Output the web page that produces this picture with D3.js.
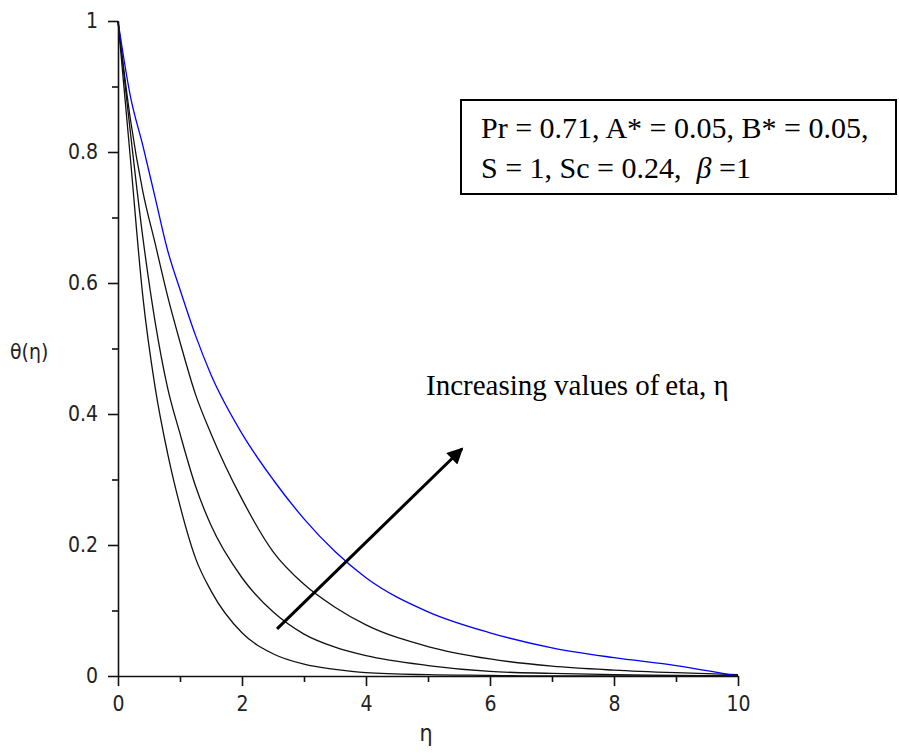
<!DOCTYPE html>
<html>
<head>
<meta charset="utf-8">
<script src="https://cdn.jsdelivr.net/npm/d3@7"></script>
<style>
  body { margin: 0; background: #fff; }
  .tick text { font-family: "Liberation Sans Narrow", "DejaVu Sans Condensed", "DejaVu Sans", sans-serif; font-stretch: condensed; font-size: 21px; fill: #222; }
</style>
</head>
<body>
<svg id="chart" width="899" height="753"></svg>
<script>
// eta grid shared by all four profiles
const ETA = [0, 0.2, 0.4, 0.6, 0.8, 1.0, 1.25, 1.5, 2, 2.5, 3, 3.5, 4, 5, 6, 7, 8, 9, 10];
// theta(eta), innermost curve first
const THETA_1 = [1, 0.79, 0.58, 0.44, 0.34, 0.26, 0.18, 0.13, 0.066, 0.034, 0.018, 0.010, 0.005, 0.002, 0.001, 0, 0, 0, 0];
const THETA_2 = [1, 0.83, 0.67, 0.54, 0.44, 0.37, 0.29, 0.23, 0.15, 0.098, 0.064, 0.044, 0.031, 0.016, 0.007, 0.004, 0.002, 0.001, 0];
const THETA_3 = [1, 0.85, 0.74, 0.66, 0.58, 0.51, 0.43, 0.37, 0.27, 0.19, 0.14, 0.105, 0.078, 0.045, 0.026, 0.015, 0.009, 0.005, 0.002];
const THETA_4 = [1, 0.885, 0.81, 0.73, 0.65, 0.59, 0.52, 0.46, 0.37, 0.30, 0.24, 0.19, 0.15, 0.098, 0.066, 0.043, 0.028, 0.016, 0];
const SERIES = [THETA_1, THETA_2, THETA_3, THETA_4];
const SERIES_COLOURS = ["#111", "#111", "#111", "#0000ff"];

const X_TICKS = [0, 2, 4, 6, 8, 10];
const X_MINOR = [1, 3, 5, 7, 9];
const Y_TICKS = [0, 0.2, 0.4, 0.6, 0.8, 1];
const Y_MINOR = [0.1, 0.3, 0.5, 0.7, 0.9];
const Y_TICK_LABELS = ["0", "0.2", "0.4", "0.6", "0.8", "1"];

// arrow from/to in data units
const ARROW_FROM = [2.565, 0.072];
const ARROW_TO = [5.55, 0.347];

const LEGEND_LINE_1 = "Pr = 0.71, A* = 0.05, B* = 0.05,";
const ANNOTATION = "Increasing values of\u2009eta, \u03b7";

const X0 = 118, X1 = 738, Y0 = 676, Y1 = 21;

const x = d3.scaleLinear().domain([0, 10]).range([X0, X1]);
const y = d3.scaleLinear().domain([0, 1]).range([Y0, Y1]);

const svg = d3.select("#chart");

svg.append("defs").append("marker")
    .attr("id", "head")
    .attr("viewBox", "0 0 10 10")
    .attr("refX", 9)
    .attr("refY", 5)
    .attr("markerUnits", "userSpaceOnUse")
    .attr("markerWidth", 18)
    .attr("markerHeight", 16)
    .attr("orient", "auto")
    .append("path")
    .attr("d", "M0,0 L10,5 L0,10 Z")
    .attr("fill", "#000");

// curves
let line = d3.line()
    .x((d, i) => x(ETA[i]))
    .y(d => y(d))
    .curve(d3.curveMonotoneX);

SERIES.forEach((s, k) => {
    svg.append("path")
        .datum(s)
        .attr("d", line)
        .attr("fill", "none")
        .attr("stroke", SERIES_COLOURS[k])
        .attr("stroke-width", 1.3);
});

// axes
svg.append("g")
    .attr("transform", `translate(0,${Y0})`)
    .call(d3.axisBottom(x).tickValues(X_TICKS).tickSize(10).tickPadding(10).tickSizeOuter(0).tickFormat(d3.format("d")));
svg.append("g")
    .attr("transform", `translate(0,${Y0})`)
    .call(d3.axisBottom(x).tickValues(X_MINOR).tickSize(6).tickFormat(""))
    .call(g => g.select(".domain").remove());

svg.append("g")
    .attr("transform", `translate(${X0},0)`)
    .call(d3.axisLeft(y).tickValues(Y_TICKS).tickSize(10).tickPadding(10).tickSizeOuter(0)
        .tickFormat((d, i) => Y_TICK_LABELS[i]));
svg.append("g")
    .attr("transform", `translate(${X0},0)`)
    .call(d3.axisLeft(y).tickValues(Y_MINOR).tickSize(6).tickFormat(""))
    .call(g => g.select(".domain").remove());

svg.selectAll(".domain, .tick line")
    .attr("stroke", "#111")
    .attr("stroke-width", 1.6);

// axis titles
svg.append("text")
    .attr("x", 10)
    .attr("y", 359)
    .style("font-family", "'Liberation Sans Narrow', 'DejaVu Sans Condensed', 'DejaVu Sans', sans-serif")
    .style("font-stretch", "condensed")
    .style("font-size", "21px")
    .attr("fill", "#222")
    .text("\u03b8(\u03b7)");

svg.append("text")
    .attr("x", 426)
    .attr("y", 741)
    .attr("text-anchor", "middle")
    .style("font-family", "'Liberation Sans Narrow', 'DejaVu Sans Condensed', 'DejaVu Sans', sans-serif")
    .style("font-size", "23px")
    .attr("fill", "#222")
    .text("\u03b7");

// arrow + annotation
svg.append("line")
    .attr("x1", x(ARROW_FROM[0]))
    .attr("y1", y(ARROW_FROM[1]))
    .attr("x2", x(ARROW_TO[0]))
    .attr("y2", y(ARROW_TO[1]))
    .attr("stroke", "#000")
    .attr("stroke-width", 3)
    .attr("marker-end", "url(#head)");

svg.append("text")
    .attr("x", 426)
    .attr("y", 395)
    .style("font-family", "'Liberation Serif', 'Times New Roman', serif")
    .style("font-size", "29px")
    .attr("fill", "#000")
    .text(ANNOTATION);

// parameter box
svg.append("rect")
    .attr("x", 461)
    .attr("y", 100)
    .attr("width", 435)
    .attr("height", 94)
    .attr("fill", "#fff")
    .attr("stroke", "#000")
    .attr("stroke-width", 2);

let legend = svg.append("text")
    .style("font-family", "'Liberation Serif', 'Times New Roman', serif")
    .style("font-size", "30px")
    .attr("fill", "#000");

legend.append("tspan")
    .attr("x", 481)
    .attr("y", 138)
    .text(LEGEND_LINE_1);

let l2 = legend.append("tspan")
    .attr("x", 481)
    .attr("y", 178);
l2.append("tspan").text("S = 1, Sc = 0.24,\u00a0\u00a0");
l2.append("tspan").style("font-style", "italic").text("\u03b2");
l2.append("tspan").text(" =1");
</script>
</body>
</html>
